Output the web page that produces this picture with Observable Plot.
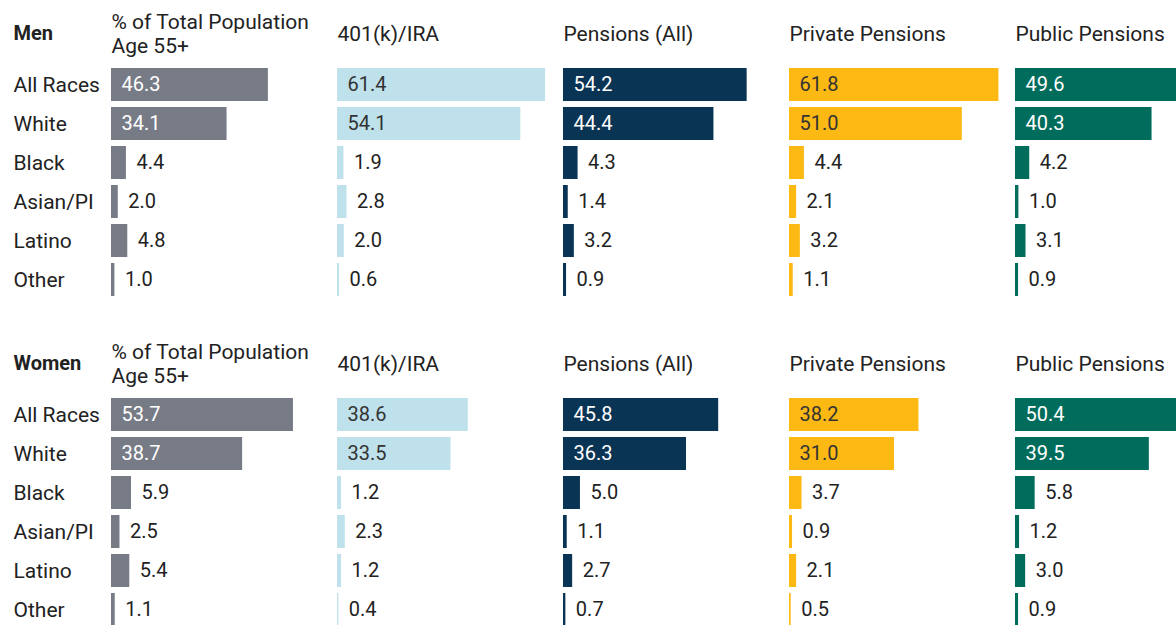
<!DOCTYPE html>
<html>
<head>
<meta charset="utf-8">
<script src="https://cdn.jsdelivr.net/npm/d3@7"></script>
<script src="https://cdn.jsdelivr.net/npm/@observablehq/plot@0.6"></script>
<style>
  html, body { margin: 0; padding: 0; overflow: hidden; background: #fff; }
  #wrap { width: 1176px; height: 625px; overflow: hidden; }
  #wrap svg { display: block; max-width: none !important; width: 1241px !important; height: 330px !important; }
</style>
</head>
<body>
<div id="wrap"></div>
<script>
const races = ["All Races", "White", "Black", "Asian/PI", "Latino", "Other"];
const columns = ["% of Total Population\nAge 55+", "401(k)/IRA", "Pensions (All)", "Private Pensions", "Public Pensions"];
const colors = ["#777b86", "#bee1ec", "#0a3454", "#fdb913", "#006c5b"];
const insideText = ["white", "#333", "white", "#333", "white"];

const menPct      = [46.3, 34.1, 4.4, 2.0, 4.8, 1.0];
const men401k     = [61.4, 54.1, 1.9, 2.8, 2.0, 0.6];
const menPensions = [54.2, 44.4, 4.3, 1.4, 3.2, 0.9];
const menPrivate  = [61.8, 51.0, 4.4, 2.1, 3.2, 1.1];
const menPublic   = [49.6, 40.3, 4.2, 1.0, 3.1, 0.9];

const womenPct      = [53.7, 38.7, 5.9, 2.5, 5.4, 1.1];
const women401k     = [38.6, 33.5, 1.2, 2.3, 1.2, 0.4];
const womenPensions = [45.8, 36.3, 5.0, 1.1, 2.7, 0.7];
const womenPrivate  = [38.2, 31.0, 3.7, 0.9, 2.1, 0.5];
const womenPublic   = [50.4, 39.5, 5.8, 1.2, 3.0, 0.9];

function panel(label, series) {
  const data = [];
  columns.forEach((c, j) => races.forEach((r, i) => data.push({col: c, j, race: r, value: series[j][i]})));
  const fmt = d => d.value.toFixed(1);
  return Plot.plot({
    width: 1241, height: 330,
    marginLeft: 111, marginRight: 0, marginTop: 60, marginBottom: 26,
    style: {fontFamily: "Roboto, sans-serif", fontSize: "21px", color: "#222", background: "white", overflow: "visible"},
    fx: {domain: columns, padding: 0, axis: null},
    x: {domain: [0, 66.7], axis: null},
    y: {domain: races, padding: 0.144, axis: null},
    color: {domain: columns, range: colors},
    marks: [
      Plot.barX(data, {fx: "col", y: "race", x: "value", fill: "col"}),
      Plot.text(data.filter(d => d.value > 20), {fx: "col", y: "race", x: 0, text: fmt, textAnchor: "start", dx: 10, fontSize: 20, fill: d => insideText[d.j]}),
      Plot.text(data.filter(d => d.value <= 20), {fx: "col", y: "race", x: "value", text: fmt, textAnchor: "start", dx: 10, fontSize: 20, fill: "#222"}),
      Plot.text(columns, {fx: d => d, text: d => d, frameAnchor: "top-left", lineAnchor: "middle", dy: -27, textAnchor: "start", lineHeight: 1.14, fill: "#222"}),
      Plot.text(races, {fx: () => columns[0], y: d => d, text: d => d, frameAnchor: "left", dx: -98, textAnchor: "start", fill: "#222"}),
      Plot.text([label], {fx: () => columns[0], text: d => d, frameAnchor: "top-left", lineAnchor: "middle", dx: -98, dy: -27, textAnchor: "start", fontWeight: "bold", fontSize: 20, fill: "#222"})
    ]
  });
}

const wrap = document.getElementById("wrap");
wrap.appendChild(panel("Men", [menPct, men401k, menPensions, menPrivate, menPublic]));
wrap.appendChild(panel("Women", [womenPct, women401k, womenPensions, womenPrivate, womenPublic]));
</script>
</body>
</html>
